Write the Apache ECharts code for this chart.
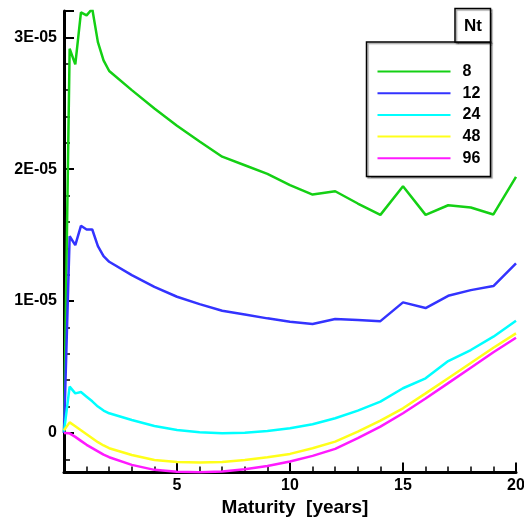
<!DOCTYPE html>
<html>
<head>
<meta charset="utf-8">
<script src="https://cdn.jsdelivr.net/npm/echarts@6/dist/echarts.min.js"></script>
<style>
  html, body { margin: 0; padding: 0; background: #fff; }
  #chart { width: 524px; height: 521px; }
</style>
</head>
<body>
<div id="chart"></div>
<script>
// Maturity in years
const maturity = [0, 0.25, 0.5, 0.75, 1, 1.25, 1.5, 1.75, 2, 3, 4, 5, 6, 7, 8, 9, 10, 11, 12, 13, 14, 15, 16, 17, 18, 19, 20];
// Error values, in units of 1E-05
const errNt8 = [0, 2.914, 2.795, 3.19, 3.167, 3.217, 2.964, 2.826, 2.745, 2.60, 2.46, 2.33, 2.21, 2.095, 2.03, 1.965, 1.88, 1.808, 1.833, 1.74, 1.654, 1.871, 1.654, 1.727, 1.71, 1.657, 1.942];
const errNt12 = [0, 1.492, 1.424, 1.571, 1.543, 1.543, 1.417, 1.341, 1.298, 1.197, 1.108, 1.033, 0.977, 0.927, 0.898, 0.869, 0.843, 0.826, 0.864, 0.856, 0.848, 0.99, 0.947, 1.04, 1.083, 1.114, 1.286];
const errNt24 = [0.01, 0.351, 0.30, 0.31, 0.275, 0.24, 0.20, 0.17, 0.149, 0.098, 0.053, 0.023, 0.005, -0.003, 0.002, 0.015, 0.035, 0.066, 0.111, 0.169, 0.237, 0.339, 0.414, 0.545, 0.629, 0.73, 0.851];
const errNt48 = [0.02, 0.08, 0.05, 0.02, -0.01, -0.04, -0.07, -0.095, -0.116, -0.167, -0.205, -0.22, -0.225, -0.22, -0.205, -0.184, -0.159, -0.116, -0.066, 0.01, 0.093, 0.187, 0.30, 0.415, 0.53, 0.646, 0.755];
const errNt96 = [0.0, -0.003, -0.03, -0.06, -0.09, -0.115, -0.14, -0.165, -0.184, -0.242, -0.28, -0.295, -0.298, -0.293, -0.275, -0.25, -0.217, -0.174, -0.121, -0.04, 0.048, 0.149, 0.261, 0.378, 0.495, 0.612, 0.722];

const seriesNames = ['8', '12', '24', '48', '96'];
const seriesValues = [errNt8, errNt12, errNt24, errNt48, errNt96];
const seriesColors = ['#14d014', '#3333ff', '#00ffff', '#ffff1a', '#ff1aff'];

const FONT = 'Liberation Sans, Arial, sans-serif';

const chart = echarts.init(document.getElementById('chart'), null, { renderer: 'canvas' });

const series = seriesNames.map((name, i) => ({
  name: name,
  type: 'line',
  data: maturity.map((m, j) => [m, seriesValues[i][j]]),
  symbol: 'none',
  smooth: false,
  clip: true,
  lineStyle: { color: seriesColors[i], width: 2.5 },
  itemStyle: { color: seriesColors[i] },
  z: 2 + i
}));

chart.setOption({
  animation: false,
  backgroundColor: '#ffffff',
  grid: { left: 64, right: 8, top: 11, bottom: 48.5, containLabel: false, outerBoundsMode: 'none' },
  xAxis: {
    type: 'value',
    min: 0, max: 20, interval: 5,
    name: 'Maturity  [years]',
    nameLocation: 'middle',
    nameGap: 20,
    nameTextStyle: { fontFamily: FONT, fontWeight: 'bold', fontSize: 19, color: '#000', padding: [0, 0, 0, 10], verticalAlign: 'top' },
    axisLine: { show: true, onZero: false, lineStyle: { color: '#000', width: 3 } },
    axisTick: { show: true, inside: true, length: 10, lineStyle: { color: '#000', width: 2 } },
    minorTick: { show: true, splitNumber: 5, length: 6, lineStyle: { color: '#000', width: 1.5 } },
    axisLabel: { showMinLabel: false, margin: 5, fontFamily: FONT, fontWeight: 'bold', fontSize: 16, color: '#000' },
    splitLine: { show: false }
  },
  yAxis: {
    type: 'value',
    min: -0.3, max: 3.2,
    splitNumber: 3, minInterval: 1, maxInterval: 1,
    name: 'Error',
    nameLocation: 'middle',
    nameGap: 37,
    nameTextStyle: { fontFamily: FONT, fontWeight: 'bold', fontSize: 17, color: '#000' },
    axisLine: { show: true, onZero: false, lineStyle: { color: '#000', width: 3 } },
    axisTick: { show: true, inside: true, length: 10, lineStyle: { color: '#000', width: 2 } },
    minorTick: { show: true, splitNumber: 5, length: 6, lineStyle: { color: '#000', width: 1.5 } },
    axisLabel: {
      showMinLabel: false, showMaxLabel: false, margin: 7,
      fontFamily: FONT, fontWeight: 'bold', fontSize: 16, color: '#000',
      formatter: function (v) {
        const r = Math.round(v * 1000) / 1000;
        if (r === 0) return '0';
        return r + 'E-05';
      }
    },
    splitLine: { show: false }
  },
  legend: {
    orient: 'vertical',
    left: 376.5,
    top: 63.5,
    padding: 0,
    itemWidth: 73,
    itemHeight: 14,
    itemGap: 5.7,
    data: seriesNames,
    itemStyle: { opacity: 0 },
    textStyle: { fontFamily: FONT, fontWeight: 'bold', fontSize: 16, color: '#000', padding: [0, 0, 0, 7] },
    z: 20
  },
  graphic: [
    {
      type: 'rect', z: 10,
      shape: { x: 366.5, y: 42, width: 124, height: 134.5 },
      style: { fill: '#fff', stroke: '#000', lineWidth: 1.5, shadowColor: 'rgba(0,0,0,0.35)', shadowOffsetX: 1.5, shadowOffsetY: 1.5, shadowBlur: 1 }
    },
    {
      type: 'rect', z: 10,
      shape: { x: 455, y: 8.5, width: 35.5, height: 33.5 },
      style: { fill: '#fff', stroke: '#000', lineWidth: 1.5, shadowColor: 'rgba(0,0,0,0.35)', shadowOffsetX: 1.5, shadowOffsetY: 1.5, shadowBlur: 1 }
    },
    {
      type: 'text', z: 11,
      x: 473, y: 26,
      style: { text: 'Nt', fontFamily: FONT, fontWeight: 'bold', fontSize: 17, fill: '#000', align: 'center', verticalAlign: 'middle' }
    }
  ],
  series: series
});
</script>
</body>
</html>
